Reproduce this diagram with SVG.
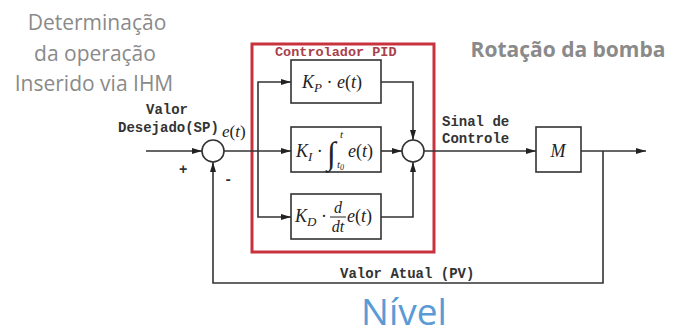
<svg xmlns="http://www.w3.org/2000/svg" width="674" height="336" viewBox="0 0 674 336">
<defs>
<marker id="arr" viewBox="0 0 10 8" refX="10" refY="4" markerWidth="10" markerHeight="8" markerUnits="userSpaceOnUse" orient="auto">
<path d="M0,1 L10,4 L0,7 Z" fill="#222"/>
</marker>
</defs>
<style>
.ln{fill:none;stroke:#333;stroke-width:1.6}
.bx{fill:#fff;stroke:#333;stroke-width:1.6}
.gray{font-family:"Open Sans","Noto Sans",sans-serif;font-size:21px;fill:#8a8a8a}
.mono{font-family:"Liberation Mono","Courier New",monospace;font-size:14px;font-weight:bold;fill:#333}
.math{font-family:"Liberation Serif","Times New Roman",serif;font-style:italic;fill:#222}
</style>
<rect width="674" height="336" fill="#fff"/>
<g id="label-setpoint">
<text class="gray" x="97" y="30" text-anchor="middle">Determinação</text>
<text class="gray" x="95" y="61" text-anchor="middle">da operação</text>
<text class="gray" x="94" y="91" text-anchor="middle">Inserido via IHM</text>
</g>
<g id="label-rotacao">
<text class="gray" x="568" y="57" text-anchor="middle" font-weight="bold" font-size="19">Rotação da bomba</text>
</g>
<g id="pid">
<rect x="252" y="44" width="182" height="208" fill="none" stroke="#c8323c" stroke-width="3"/>
<text x="275" y="56" font-family="'Liberation Mono','Courier New',monospace" font-size="13.5" font-weight="bold" fill="#a8404a">Controlador PID</text>
</g>
<g id="sum1">
<circle cx="213" cy="151" r="11" class="bx"/>
<text x="179" y="174" class="mono" font-weight="normal">+</text>
<text x="224" y="184" class="mono">-</text>
</g>
<g id="kp">
<rect x="291" y="60" width="90" height="43" class="bx"/>
<text x="302" y="88" class="math" font-size="18">K<tspan font-size="13" dy="4">P</tspan><tspan dy="-4" font-style="normal"> · </tspan>e<tspan font-style="normal">(</tspan>t<tspan font-style="normal">)</tspan></text>
</g>
<g id="ki">
<rect x="291" y="127" width="90" height="45" class="bx"/>
<text x="296" y="157" class="math" font-size="18">K<tspan font-size="13" dy="4">I</tspan><tspan dy="-4" font-style="normal"> · </tspan></text>
<text x="327" y="164" class="math" font-size="32" font-style="normal">∫</text>
<text x="340" y="138" class="math" font-size="11">t</text>
<text x="337" y="168" class="math" font-size="11">t<tspan font-size="8" dy="2">0</tspan></text>
<text x="348" y="157" class="math" font-size="18">e<tspan font-style="normal">(</tspan>t<tspan font-style="normal">)</tspan></text>
</g>
<g id="kd">
<rect x="291" y="194" width="90" height="45" class="bx"/>
<text x="295" y="222" class="math" font-size="18">K<tspan font-size="13" dy="4">D</tspan><tspan dy="-4" font-style="normal"> · </tspan></text>
<text x="338" y="213" class="math" font-size="16" text-anchor="middle">d</text>
<line x1="330" y1="217" x2="346" y2="217" stroke="#222" stroke-width="1"/>
<text x="338" y="232" class="math" font-size="16" text-anchor="middle">dt</text>
<text x="347" y="222" class="math" font-size="18">e<tspan font-style="normal">(</tspan>t<tspan font-style="normal">)</tspan></text>
</g>
<g id="sum2">
<circle cx="413" cy="151" r="11" class="bx"/>
</g>
<g id="m">
<rect x="536" y="127" width="45" height="45" class="bx"/>
<text x="558" y="157" class="math" font-size="18" text-anchor="middle">M</text>
</g>
<g id="connectors">
<line x1="146" y1="151" x2="202" y2="151" class="ln" marker-end="url(#arr)"/>
<line x1="224" y1="151" x2="291" y2="151" class="ln" marker-end="url(#arr)"/>
<path d="M258,151 V82 H291" class="ln" marker-end="url(#arr)"/>
<path d="M258,151 V217 H291" class="ln" marker-end="url(#arr)"/>
<path d="M381,82 H413 V140" class="ln" marker-end="url(#arr)"/>
<line x1="381" y1="151" x2="402" y2="151" class="ln" marker-end="url(#arr)"/>
<path d="M381,217 H413 V162" class="ln" marker-end="url(#arr)"/>
<line x1="424" y1="151" x2="536" y2="151" class="ln" marker-end="url(#arr)"/>
<line x1="581" y1="151" x2="646" y2="151" class="ln" marker-end="url(#arr)"/>
<path d="M603,151 V283 H213 V162" class="ln" marker-end="url(#arr)"/>
</g>
<g id="labels">
<text x="167" y="114" class="mono" text-anchor="middle">Valor</text>
<text x="118" y="132" class="mono">Desejado(SP)</text>
<text x="222" y="137" class="math" font-size="17">e<tspan font-style="normal">(</tspan>t<tspan font-style="normal">)</tspan></text>
<text x="442" y="126" class="mono">Sinal de</text>
<text x="442" y="143" class="mono">Controle</text>
<text x="340" y="278" class="mono">Valor Atual (PV)</text>
</g>
<g id="label-nivel">
<text x="404" y="325" text-anchor="middle" font-family="'Open Sans','Noto Sans',sans-serif" font-size="37" fill="#5b9bd5">Nível</text>
</g>
</svg>
